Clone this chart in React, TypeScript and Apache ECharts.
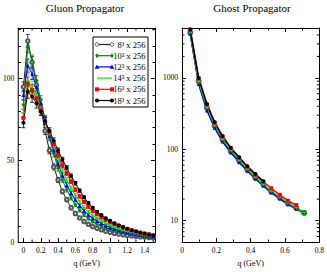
import React, { useEffect, useRef } from 'react';
import * as echarts from 'echarts';

const FONT = '"Liberation Serif", "DejaVu Serif", serif';

// ---- data ----
const seriesLabels = ['8³ x 256', '10³ x 256', '12³ x 256', '14³ x 256', '16³ x 256', '18³ x 256'];
const lineColors = ['#222222', '#008b00', '#0000ff', '#00ee00', '#ff0000', '#000000'];
const markerColors = ['#555555', '#008b00', '#0000ff', '#00ee00', '#ff0000', '#000000'];
const markerKinds = ['emptyCircle', 'diamond', 'triangle', 'plus', 'rect', 'circle'];

const gluonTicks = [0, 0.2, 0.4, 0.6, 0.8, 1, 1.2, 1.4];
const gluonMinorTicks = [0.1, 0.3, 0.5, 0.7, 0.9, 1.1, 1.3, 1.5];

const qGluon = [0, 0.05, 0.1, 0.15, 0.2, 0.25, 0.3, 0.35, 0.4, 0.45, 0.5, 0.55, 0.6, 0.65, 0.7, 0.75,
  0.8, 0.85, 0.9, 0.95, 1.0, 1.05, 1.1, 1.15, 1.2, 1.25, 1.3, 1.35, 1.4, 1.45, 1.5];

const gluon8 = [95, 123, 110, 96, 82, 68, 56, 46, 38, 31, 26, 21, 17.5, 14.8, 12.6, 10.9, 9.5, 8.4, 7.5, 6.7, 6.0, 5.4, 4.9, 4.5, 4.1, 3.8, 3.5, 3.2, 3.0, 2.8, 2.6];
const gluon10 = [84, 120, 111, 99, 87, 75, 64, 54, 45, 38, 32, 27, 22.8, 19.4, 16.6, 14.3, 12.5, 11.0, 9.8, 8.7, 7.8, 7.0, 6.3, 5.7, 5.2, 4.7, 4.3, 3.9, 3.6, 3.3, 3.0];
const gluon12 = [90, 108, 103, 95, 85, 75, 65, 56, 48, 41, 35, 30, 26, 22.3, 19.2, 16.7, 14.6, 12.9, 11.4, 10.1, 9.0, 8.0, 7.2, 6.5, 5.8, 5.2, 4.7, 4.3, 3.9, 3.5, 3.2];
const gluon14 = [79, 99, 95, 90, 82, 74, 66, 58, 51, 44, 38, 33, 28.5, 24.6, 21.2, 18.5, 16.3, 14.5, 12.9, 11.5, 10.3, 9.2, 8.2, 7.4, 6.6, 5.9, 5.3, 4.8, 4.3, 3.9, 3.5];
const gluon16 = [76, 97, 93, 88, 81, 74, 67, 60, 53, 47, 42, 37, 32, 28, 24.6, 21.6, 19.1, 17.0, 15.2, 13.6, 12.2, 11.0, 9.9, 8.9, 8.0, 7.2, 6.5, 5.8, 5.2, 4.7, 4.2];
const gluon18 = [73, 92, 89, 85, 80, 74, 68, 62, 56, 50.5, 45.5, 40.5, 36, 31.5, 27.5, 24, 21, 18.6, 16.5, 14.6, 13, 11.6, 10.3, 9.2, 8.2, 7.3, 6.5, 5.8, 5.2, 4.6, 4.1];
const gluonErr = [3, 4, 3.5, 3, 2.6, 2.2, 2, 1.8, 1.6, 1.4, 1.3, 1.2, 1.1, 1, 0.9, 0.8, 0.8, 0.7, 0.7, 0.6, 0.6, 0.5, 0.5, 0.5, 0.5, 0.4, 0.4, 0.4, 0.4, 0.4, 0.4];

const qGhost = [0.048, 0.097, 0.145, 0.19, 0.236, 0.284, 0.333, 0.38, 0.427, 0.474, 0.52, 0.57, 0.617, 0.666, 0.712];
const ghost8 = [4300, 900, 380, 213, 136, 94, 69, 52, 40, 32, 25.5, 21, 17.5, 15, 12.8];
const ghost10 = [4100, 850, 360, 205, 130, 91, 66, 50, 38.5, 30.5, 24.5, 20, 16.8, 14.5, 12.5];
const ghost12 = [4200, 820, 350, 200, 128, 90, 66, 50, 39, 31, 25, 20.5, 17, 14.8, 13.2];
const ghost14 = [4400, 900, 390, 218, 140, 97, 71, 53, 41, 32.5, 26, 21.5, 17.8, 15.2, 13];
const ghost16 = [4700, 980, 420, 235, 150, 103, 76, 57, 44, 35, 28.4, 23, 19, 16.5];
const ghost18 = [4800, 1000, 430, 240, 153, 105, 77, 58, 45, 35.5];

const gluonSets = [gluon8, gluon10, gluon12, gluon14, gluon16, gluon18];
const ghostSets = [ghost8, ghost10, ghost12, ghost14, ghost16, ghost18];

const plusPath = 'path://M0,4H10V6H0ZM4,0H6V10H4Z';

function seriesSymbol(kind: string) {
  return kind === 'plus' ? plusPath : kind;
}

function markerGraphic(kind: string, cx: number, cy: number, color: string): any {
  switch (kind) {
    case 'emptyCircle':
      return { type: 'circle', shape: { cx, cy, r: 1.8 }, style: { fill: '#fff', stroke: color, lineWidth: 1 } };
    case 'circle':
      return { type: 'circle', shape: { cx, cy, r: 2 }, style: { fill: color } };
    case 'rect':
      return { type: 'rect', shape: { x: cx - 2, y: cy - 2, width: 4, height: 4 }, style: { fill: color } };
    case 'triangle':
      return { type: 'polygon', shape: { points: [[cx, cy - 2.4], [cx + 2.4, cy + 1.8], [cx - 2.4, cy + 1.8]] }, style: { fill: color } };
    case 'diamond':
      return { type: 'polygon', shape: { points: [[cx, cy - 2.4], [cx + 1.8, cy], [cx, cy + 2.4], [cx - 1.8, cy]] }, style: { fill: color } };
    default:
      return {
        type: 'group', children: [
          { type: 'line', shape: { x1: cx - 2.3, y1: cy, x2: cx + 2.3, y2: cy }, style: { stroke: color, lineWidth: 1.2 } },
          { type: 'line', shape: { x1: cx, y1: cy - 2.3, x2: cx, y2: cy + 2.3 }, style: { stroke: color, lineWidth: 1.2 } },
        ],
      };
  }
}

const logMinor: number[] = [];
for (let p = 1; p <= 1000; p *= 10) {
  for (let m = 2; m <= 9; m++) {
    const v = m * p;
    if (v > 5 && v < 5000 && v !== 10 && v !== 100 && v !== 1000) logMinor.push(v);
  }
}

const axisLine = { show: true, onZero: false, lineStyle: { color: '#000', width: 1 } };
const tick = { show: true, inside: true, length: 4, lineStyle: { color: '#000', width: 1 } };
const labelStyle = { fontFamily: FONT, fontSize: 7.5, color: '#000' };
const GX_MIN = -0.06, GX_MAX = 1.52, GY_MAX = 131;

export default function App() {
  const ref = useRef<HTMLDivElement>(null);
  useEffect(() => {
    if (!ref.current) return;
    const chart = echarts.init(ref.current, undefined, { renderer: 'svg' });

    const series: any[] = [];
    gluonSets.forEach((vals, s) => {
      series.push({
        type: 'custom',
        xAxisIndex: 0, yAxisIndex: 0,
        silent: true, z: 1,
        data: vals.map((v, i) => [qGluon[i], v, gluonErr[i]]),
        renderItem: (params: any, api: any) => {
          const x = api.value(0), y = api.value(1), e = api.value(2);
          const t = api.coord([x, y + e]);
          const b = api.coord([x, y - e]);
          const st = { stroke: lineColors[s], lineWidth: 0.8 };
          return {
            type: 'group', children: [
              { type: 'line', shape: { x1: t[0], y1: t[1], x2: b[0], y2: b[1] }, style: st },
              { type: 'line', shape: { x1: t[0] - 2, y1: t[1], x2: t[0] + 2, y2: t[1] }, style: st },
              { type: 'line', shape: { x1: b[0] - 2, y1: b[1], x2: b[0] + 2, y2: b[1] }, style: st },
            ],
          };
        },
      });
      series.push({
        type: 'line', name: seriesLabels[s],
        xAxisIndex: 0, yAxisIndex: 0, z: 2,
        data: vals.map((v, i) => [qGluon[i], v]),
        symbol: seriesSymbol(markerKinds[s]), symbolSize: s === 0 ? 3.5 : 4, showSymbol: true,
        lineStyle: { color: lineColors[s], width: 1 },
        itemStyle: { color: markerColors[s] },
      });
    });
    ghostSets.forEach((vals, s) => {
      series.push({
        type: 'line', name: seriesLabels[s] + ' ghost',
        xAxisIndex: 2, yAxisIndex: 2, z: 2,
        data: vals.map((v, i) => [qGhost[i], v]),
        symbol: seriesSymbol(markerKinds[s]), symbolSize: 4, showSymbol: true,
        lineStyle: { color: lineColors[s], width: 1.5 },
        itemStyle: { color: markerColors[s] },
      });
    });
    // log minor ticks (ghost)
    series.push({
      type: 'custom', xAxisIndex: 2, yAxisIndex: 2, silent: true, clip: false,
      data: logMinor.map((v) => [0, v]),
      renderItem: (params: any, api: any) => {
        const v = api.value(1);
        const l = api.coord([0, v]);
        const r = api.coord([0.8, v]);
        const st = { stroke: '#000', lineWidth: 1 };
        return {
          type: 'group', children: [
            { type: 'line', shape: { x1: l[0], y1: l[1], x2: l[0] + 2.5, y2: l[1] }, style: st },
            { type: 'line', shape: { x1: r[0] - 2.5, y1: r[1], x2: r[0], y2: r[1] }, style: st },
          ],
        };
      },
    });
    // minor x ticks (gluon)
    series.push({
      type: 'custom', xAxisIndex: 0, yAxisIndex: 0, silent: true, clip: false,
      data: gluonMinorTicks.map((v) => [v, 0]),
      renderItem: (params: any, api: any) => {
        const v = api.value(0);
        const b = api.coord([v, 0]);
        const t = api.coord([v, GY_MAX]);
        const st = { stroke: '#000', lineWidth: 1 };
        return {
          type: 'group', children: [
            { type: 'line', shape: { x1: b[0], y1: b[1], x2: b[0], y2: b[1] - 2.5 }, style: st },
            { type: 'line', shape: { x1: t[0], y1: t[1], x2: t[0], y2: t[1] + 2.5 }, style: st },
          ],
        };
      },
    });

    const legendX = 93, legendY = 37, legendW = 55, legendH = 70;
    const graphics: any[] = [
      { type: 'rect', shape: { x: legendX, y: legendY, width: legendW, height: legendH }, style: { fill: '#fff', stroke: '#000', lineWidth: 1 }, z: 10 },
    ];
    seriesLabels.forEach((lab, i) => {
      const cy = legendY + 7.5 + i * 11.2;
      graphics.push({ type: 'line', shape: { x1: 97, y1: cy, x2: 112, y2: cy }, style: { stroke: lineColors[i], lineWidth: 1.2 }, z: 11 });
      const m1 = markerGraphic(markerKinds[i], 97, cy, markerColors[i]);
      const m2 = markerGraphic(markerKinds[i], 112, cy, markerColors[i]);
      m1.z = 12; m2.z = 12;
      graphics.push(m1, m2);
      graphics.push({
        type: 'text', x: 145.5, y: cy, z: 12,
        style: { text: lab, fontFamily: FONT, fontSize: 8.5, fill: '#000', align: 'right', verticalAlign: 'middle' },
      });
    });
    graphics.push({ type: 'text', x: 85, y: 8, style: { text: 'Gluon Propagator', fontFamily: FONT, fontSize: 11, fill: '#000', align: 'center', verticalAlign: 'middle' } });
    graphics.push({ type: 'text', x: 252, y: 8, style: { text: 'Ghost Propagator', fontFamily: FONT, fontSize: 11, fill: '#000', align: 'center', verticalAlign: 'middle' } });

    const xName = {
      name: 'q (GeV)', nameLocation: 'middle', nameGap: 14,
      nameTextStyle: { fontFamily: FONT, fontSize: 8, color: '#000' },
    };

    chart.setOption({
      animation: false,
      backgroundColor: '#fff',
      grid: [
        { left: 15, top: 28, width: 140, height: 222 },
        { left: 182, top: 28, width: 140, height: 222 },
      ],
      xAxis: [
        {
          gridIndex: 0, type: 'value', position: 'bottom', min: GX_MIN, max: GX_MAX,
          axisLine, axisTick: { ...tick, customValues: gluonTicks }, minorTick: { show: false },
          splitLine: { show: false },
          axisLabel: { ...labelStyle, margin: 4, customValues: gluonTicks },
          ...xName,
        },
        {
          gridIndex: 0, type: 'value', position: 'top', min: GX_MIN, max: GX_MAX,
          axisLine, axisTick: { ...tick, customValues: gluonTicks }, minorTick: { show: false },
          splitLine: { show: false }, axisLabel: { show: false },
        },
        {
          gridIndex: 1, type: 'value', position: 'bottom', min: 0, max: 0.8, interval: 0.2,
          axisLine, axisTick: tick, minorTick: { show: true, splitNumber: 2, length: 2.5, lineStyle: { color: '#000' } },
          splitLine: { show: false },
          axisLabel: { ...labelStyle, margin: 4 },
          ...xName,
        },
        {
          gridIndex: 1, type: 'value', position: 'top', min: 0, max: 0.8, interval: 0.2,
          axisLine, axisTick: tick, minorTick: { show: true, splitNumber: 2, length: 2.5, lineStyle: { color: '#000' } },
          splitLine: { show: false }, axisLabel: { show: false },
        },
      ],
      yAxis: [
        {
          gridIndex: 0, type: 'value', position: 'left', min: 0, max: GY_MAX, interval: 50,
          axisLine, axisTick: tick, minorTick: { show: true, splitNumber: 5, length: 2.5, lineStyle: { color: '#000' } },
          splitLine: { show: false },
          axisLabel: { ...labelStyle, margin: 4, showMaxLabel: false },
        },
        {
          gridIndex: 0, type: 'value', position: 'right', min: 0, max: GY_MAX, interval: 50,
          axisLine, axisTick: tick, minorTick: { show: true, splitNumber: 5, length: 2.5, lineStyle: { color: '#000' } },
          splitLine: { show: false }, axisLabel: { show: false },
        },
        {
          gridIndex: 1, type: 'log', logBase: 10, position: 'left', min: 5, max: 5000,
          axisLine, axisTick: tick, minorTick: { show: false }, splitLine: { show: false },
          axisLabel: { ...labelStyle, margin: 4, showMinLabel: false, showMaxLabel: false, formatter: (v: number) => String(Math.round(v)) },
        },
        {
          gridIndex: 1, type: 'log', logBase: 10, position: 'right', min: 5, max: 5000,
          axisLine, axisTick: tick, minorTick: { show: false }, splitLine: { show: false },
          axisLabel: { show: false },
        },
      ],
      graphic: graphics,
      series,
    });
    return () => chart.dispose();
  }, []);
  return <div ref={ref} style={{ position: 'fixed', left: 0, top: 0, width: 327, height: 272 }} />;
}
